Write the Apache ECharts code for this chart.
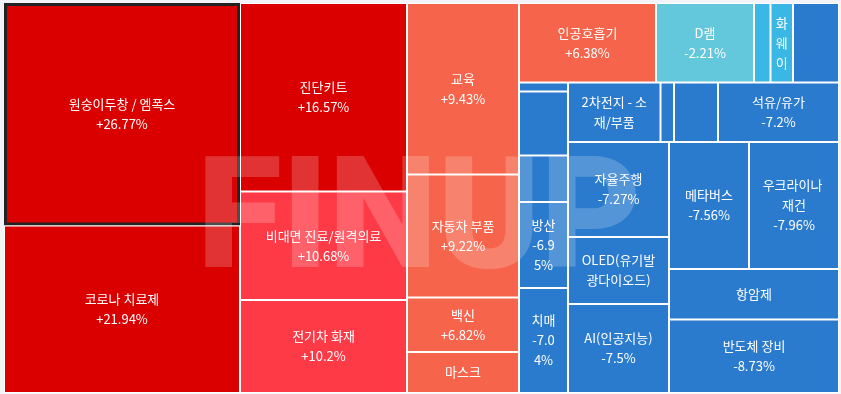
<!DOCTYPE html>
<html><head><meta charset="utf-8">
<script src="https://cdn.jsdelivr.net/npm/echarts@6/dist/echarts.min.js"></script>
<style>html,body{margin:0;padding:0;background:#f3f4f9}#c{width:841px;height:394px}</style>
</head><body><div id="c"></div>
<script>
// Themes in display order (sorted by daily change)
const names = ['원숭이두창 / 엠폭스','코로나 치료제','진단키트','비대면 진료/원격의료','전기차 화재',
  '교육','자동차 부품','백신','마스크','인공호흡기',
  'D램','','화웨이','','',
  '','','방산','치매','2차전지 - 소재/부품',
  '','','석유/유가','자율주행','OLED(유기발광다이오드)',
  'AI(인공지능)','메타버스','우크라이나 재건','항암제','반도체 장비'];
// Relative size of each theme (treemap area)
const sizes = [52510,39530,31480,18119,15532,
  19208,13776,6104,4592,10892,
  7791,1312,1789,3657,441,
  3136,2279,4214,5145,5504,
  803,2618,7200,9595,6767,
  8989,10160,11430,8585,12495];
// Daily change, %
const changes = [26.77,21.94,16.57,10.68,10.2,
  9.43,9.22,6.82,6.5,6.38,
  -2.21,-4.0,-4.5,-6.5,-6.6,
  -6.7,-6.8,-6.95,-7.04,-7.1,
  -7.15,-7.18,-7.2,-7.27,-7.4,
  -7.5,-7.56,-7.96,-8.2,-8.73];
const selectedName = '원숭이두창 / 엠폭스';

function colorFor(c){
  if (c >= 15) return '#da0000';
  if (c >= 10) return '#ff3a47';
  if (c >= 0) return '#f5644b';
  if (c > -3) return '#64c8dc';
  if (c > -6) return '#3bb7e6';
  return '#2a7bcd';
}
const data = names.map((n, i) => {
  const item = { name: n, value: sizes[i], change: changes[i], itemStyle: { color: colorFor(changes[i]) } };
  if (n === selectedName) item.itemStyle = { color: colorFor(changes[i]), borderColor: '#222', borderWidth: 3 };
  return item;
});

const chart = echarts.init(document.getElementById('c'));
chart.setOption({
  backgroundColor: '#f3f4f9',
  animation: false,
  graphic: [{
    type: 'text', x: 197, y: 228, z: 100, silent: true,
    style: { text: 'FINUP', fill: 'rgba(255,255,255,0.2)', font: '900 155px Roboto', textAlign: 'left', verticalAlign: 'middle' }
  }],
  series: [{
    type: 'treemap',
    left: 4, top: 3, right: 2, bottom: 1,
    roam: false, nodeClick: false, sort: false,
    breadcrumb: { show: false },
    itemStyle: { borderColor: '#fff', borderWidth: 1, gapWidth: 0 },
    levels: [{ itemStyle: { borderWidth: 0, gapWidth: 0 } }],
    label: {
      show: true, position: 'inside', color: '#fff',
      fontFamily: 'Noto Sans CJK KR', fontSize: 13, lineHeight: 20,
      padding: [5, 10], overflow: 'break',
      formatter: function (p) {
        if (!p.name) return '';
        const c = p.data.change;
        return p.name + '\n' + (c > 0 ? '+' : '') + c + '%';
      }
    },
    emphasis: { disabled: true },
    data: data
  }]
});
</script></body></html>
